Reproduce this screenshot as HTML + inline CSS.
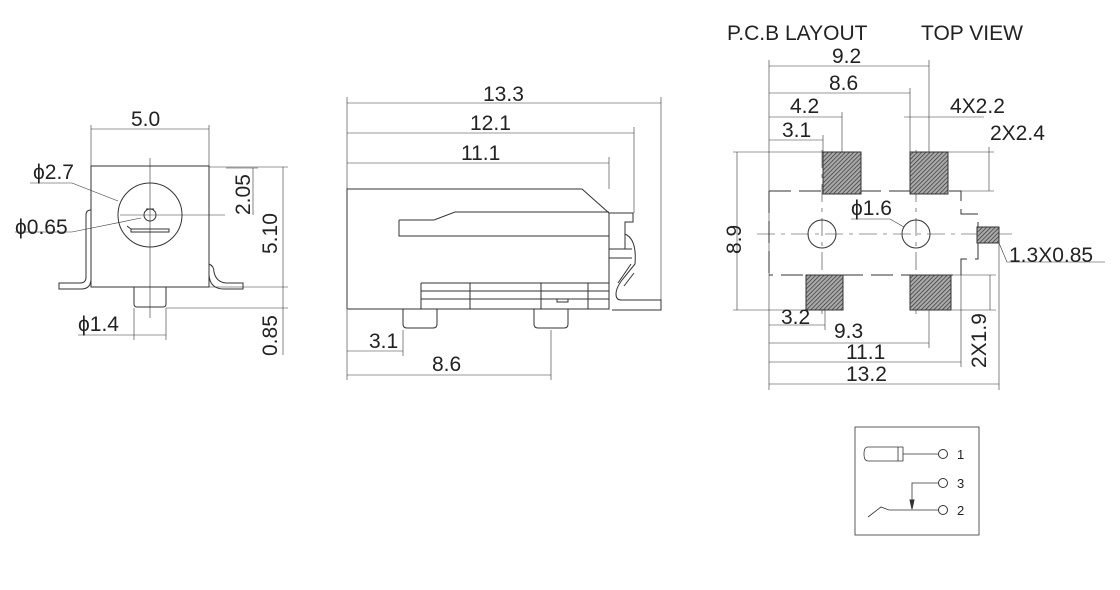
<!DOCTYPE html>
<html><head><meta charset="utf-8"><style>
html,body{margin:0;padding:0;background:#fff}
svg{display:block}
text{font-family:"Liberation Sans",Arial,sans-serif;fill:#222}
</style></head><body>
<svg width="1120" height="590" viewBox="0 0 1120 590" xmlns="http://www.w3.org/2000/svg">
<defs>
<pattern id="h" width="3" height="3" patternUnits="userSpaceOnUse" patternTransform="rotate(45)">
<rect width="3" height="3" fill="#aaa"/><line x1="0" y1="0" x2="0" y2="3" stroke="#333" stroke-width="1.4"/>
</pattern>
</defs>
<g fill="none" stroke="#333" stroke-width="1">
<!-- LEFT VIEW -->
<rect x="91" y="166" width="118" height="121"/>
<circle cx="150" cy="215" r="32"/>
<circle cx="150" cy="215" r="6"/>
<path d="M146 209 h8 M131 229 h38 v3 h-38 z M127 226 l4 3"/>
<path d="M134 287 v17 q0 3 3 3 h26 q3 0 3 -3 v-17"/>
<path d="M91 210 q-5 0 -5 5 v62 q0 6 -6 6 h-21 v6 h22 q10 0 10 -10 z"/>
<path d="M209 264 q5 2 5 8 q2 10 12 11 h17 v6 h-19 q-14 0 -15 -14"/>
<line x1="150" y1="158" x2="150" y2="318" stroke-width="0.6"/>
<line x1="120" y1="215" x2="225" y2="215" stroke-width="0.6"/>
<path d="M91 129 H209 M91 125 V166 M209 125 V166" stroke-width="0.6"/>
<path d="M209 167 H288 M226 168 H258 M253 168 V215 M209 287 H288 M283 167 V355 M166 308 H288" stroke-width="0.6"/>
<path d="M78 335 H166 M134 308 V340 M166 308 V340 M30 183 H72 L118 201 M15 232 H72 L141 218" stroke-width="0.6"/>

<!-- MIDDLE VIEW -->
<path d="M347 189 H582 L609 213 V309 H347 Z"/>
<path d="M399 220 H434 L455 212 H609 M399 220 V236 H609"/>
<path d="M421 283 H609 M421 283 V309 M421 291 H609 M421 299 H609 M470 283 V309 M541 283 V309 M588 283 V309 M557 299 h11 v3 h-11z"/>
<path d="M403 309 v15 q0 4 4 4 h26 q4 0 4 -4 v-15 M534 309 v15 q0 4 4 4 h26 q4 0 4 -4 v-15"/>
<path d="M609 213 H633 V222 H625 V234 q12 5 10 30 L622 280 q-6 8 -6 14 q0 6 5 6 H661 V310 H612 M609 249 H632 M625 234 V249 M609 258 H632 M631 264 L618 283 M634 273 L624 286"/>
<path d="M347 103 H661 M347 133 H634 M347 163 H609 M347 97 V189 M661 97 V300 M634 127 V213 M609 157 V189" stroke-width="0.6"/>
<path d="M347 351 H403 M347 375 H551 M347 310 V380 M403 330 V356 M551 330 V380" stroke-width="0.6"/>

<!-- RIGHT VIEW -->
<path d="M769 191 H961 V214 H978 V233" stroke-dasharray="22 8"/>
<path d="M978 240 V259 H961 V275 H769" stroke-dasharray="22 8"/>
<path d="M769 191 V275" stroke-dasharray="22 8"/>
<line x1="757" y1="234" x2="1012" y2="234" stroke-width="0.6" stroke-dasharray="18 6 4 6"/>
<line x1="822" y1="150" x2="822" y2="315" stroke-width="0.6" stroke-dasharray="18 6 4 6"/>
<line x1="916" y1="150" x2="916" y2="315" stroke-width="0.6" stroke-dasharray="18 6 4 6"/>
<circle cx="822" cy="234" r="14"/><circle cx="916" cy="234" r="14"/>
<rect x="823" y="152" width="38" height="42" fill="url(#h)"/>
<rect x="910" y="152" width="38" height="42" fill="url(#h)"/>
<rect x="806" y="275" width="37" height="35" fill="url(#h)"/>
<rect x="910" y="275" width="41" height="35" fill="url(#h)"/>
<rect x="977" y="227" width="22" height="16" fill="url(#h)"/>
<g stroke-width="0.6">
<path d="M769 66 H929 M769 93 H910 M769 117 H842 M769 140 H823 M769 60 V390"/>
<path d="M929 60 V152 M910 88 V152 M842 112 V152 M823 135 V152 M904 117 H984"/>
<path d="M948 152 H994 M961 191 H994 M989 147 V191"/>
<path d="M733 152 H823 M733 310 H806 M737 152 V310"/>
<path d="M769 325 H825 M769 343 H929 M769 362 H961 M769 384 H999 M825 310 V330 M929 310 V348 M961 275 V367 M999 243 V390"/>
<path d="M951 275 H996 M951 310 H996 M990 275 V310"/>
<path d="M851 219 H890 L904 227 M999 243 L1007 262 H1105"/>
</g>

<!-- schematic -->
<rect x="855" y="427" width="124" height="108" stroke-width="0.8"/>
<path d="M868 447 h30 v14 h-30 q-4 0 -4 -7 q0 -7 4 -7z M898 447 h5 v14 h-5 M903 454 H938" stroke-width="0.8"/>
<circle cx="943" cy="454" r="4.5"/><circle cx="943" cy="483" r="4.5"/><circle cx="943" cy="510" r="4.5"/>
<path d="M938 483 H912 V508 M868 517 L881 507 L889 510 H938" stroke-width="0.8"/>
<path d="M910 500 L912 509 L914 500 z" fill="#333"/>
</g>

<g font-size="21">
<text x="131" y="126">5.0</text>
<text x="33" y="179">ϕ2.7</text>
<text x="15" y="234">ϕ0.65</text>
<text x="78" y="331">ϕ1.4</text>
<text transform="translate(250,215) rotate(-90)">2.05</text>
<text transform="translate(277,254) rotate(-90)">5.10</text>
<text transform="translate(277,356) rotate(-90)">0.85</text>
<text x="483" y="101">13.3</text>
<text x="470" y="130">12.1</text>
<text x="461" y="160">11.1</text>
<text x="369" y="348">3.1</text>
<text x="432" y="371">8.6</text>
<text x="727" y="40">P.C.B LAYOUT</text>
<text x="921" y="40">TOP VIEW</text>
<text x="832" y="63">9.2</text>
<text x="829" y="90">8.6</text>
<text x="790" y="113">4.2</text>
<text x="782" y="137">3.1</text>
<text x="950" y="113">4X2.2</text>
<text x="990" y="140">2X2.4</text>
<text x="851" y="215">ϕ1.6</text>
<text x="1009" y="262">1.3X0.85</text>
<text transform="translate(741,254) rotate(-90)">8.9</text>
<text x="781" y="324">3.2</text>
<text x="834" y="338">9.3</text>
<text x="846" y="359">11.1</text>
<text x="846" y="381">13.2</text>
<text transform="translate(986,368) rotate(-90)">2X1.9</text>
</g>
<g font-size="13"><text x="957" y="459">1</text><text x="957" y="488">3</text><text x="957" y="515">2</text></g>
</svg>
</body></html>
